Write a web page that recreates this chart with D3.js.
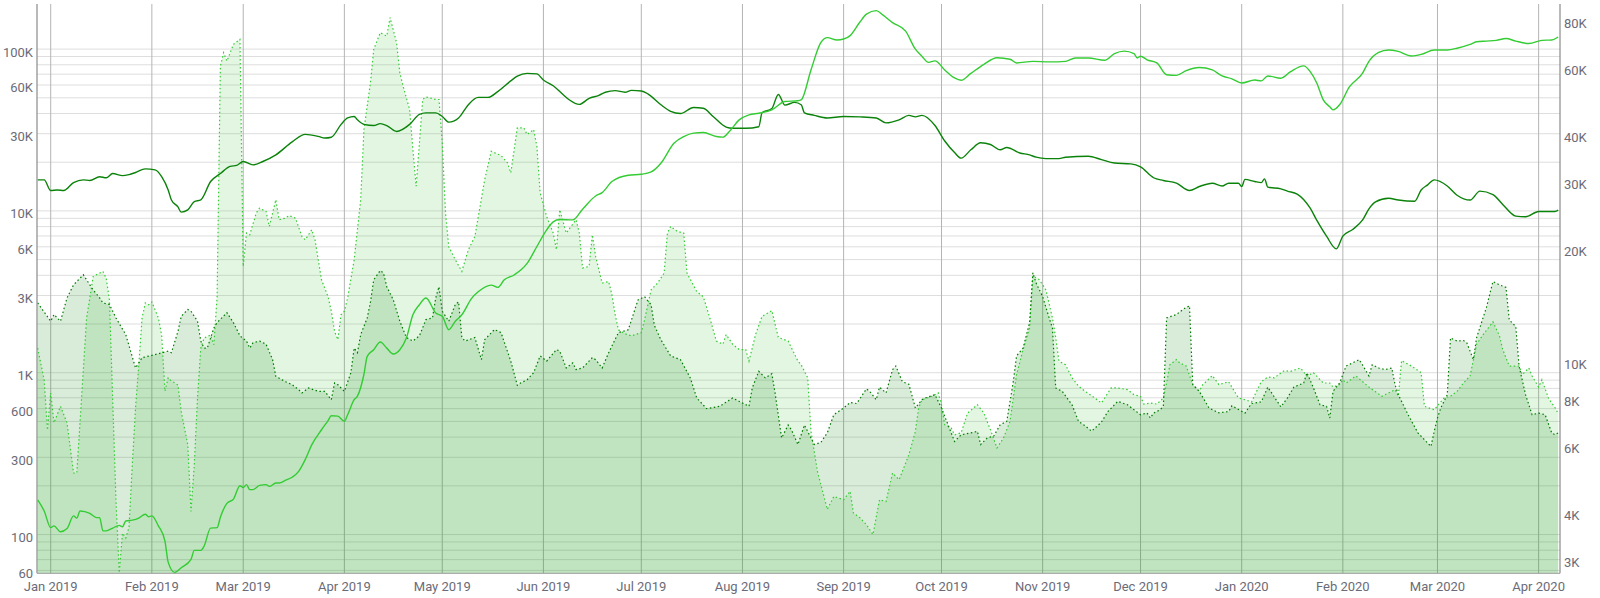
<!DOCTYPE html>
<html><head><meta charset="utf-8">
<script src="https://cdn.jsdelivr.net/npm/d3@7"></script>
<style>body{margin:0;background:#fff;overflow:hidden} text{font-family:Roboto,"Open Sans",sans-serif;}</style>
</head><body><svg id="c" width="1600" height="598"></svg>
<script>
// x values are days after 2019-01-01 (UTC)
const dayZero = "2019-01-01";

// Dark green line (right axis)
const darkLineDay = [-4,-2,0,2,4,7,10,12,15,17,19,22,24,26,29,32,34,36,37,39,40,42,44,46,49,52,55,57,59,62,65,69,74,78,82,84,86,89,91,93,94,96,99,101,103,106,110,113,115,118,120,122,125,128,131,134,137,141,143,146,149,151,154,157,159,162,165,168,170,173,176,178,181,183,187,190,193,197,200,203,207,209,213,217,218,221,223,225,228,230,231,234,238,243,248,253,256,260,263,265,267,271,274,277,279,282,285,288,291,293,297,300,302,305,309,311,318,322,326,331,334,338,341,345,349,352,356,359,361,364,365,366,369,371,372,373,377,379,382,386,388,391,394,396,399,402,404,406,410,413,418,420,422,424,428,431,435,438,442,445,449,452,456,461,462];
const darkLineValue = [30300,30300,28400,28500,28400,29800,30300,30200,30900,30700,31500,31100,31300,31700,32400,32200,30900,28500,26800,25700,24900,25250,26550,26830,30000,31500,32900,33100,33900,33200,33900,35300,38200,40000,39500,39100,39300,42500,44200,44600,43700,42500,42200,42700,42200,40700,42500,45200,45600,45600,44600,43100,44200,47900,50100,50100,51900,55400,57000,58000,57800,55700,53800,51000,49300,48000,49800,50700,51700,52200,51700,52300,52100,51200,47900,46000,45400,47100,46900,44600,41800,41500,41500,41900,45600,46800,51000,47800,48600,47900,45600,44900,44200,44600,44500,44200,42900,43700,44900,44500,44900,42200,38400,35800,34600,36400,38000,37600,36400,36900,35700,35300,34800,34500,34500,34800,35000,34300,33600,33400,32800,30700,30200,29700,28400,29100,29700,29200,29700,29700,29100,30400,30000,29800,30500,29000,28700,28300,27800,25500,23700,21500,19900,21500,22400,23700,25400,26500,27100,26800,26600,28500,29400,30300,29200,27600,26800,28300,27700,26100,24300,24200,25000,25000,25200];

// Bright green line (right axis)
const brightLineDay = [-4,-2,0,1,3,5,7,8,9,12,14,15,16,17,19,21,22,23,25,27,29,30,31,33,35,36,38,40,43,44,46,47,49,51,52,54,56,58,59,60,61,62,64,66,67,69,70,72,74,76,78,80,83,85,86,88,90,91,93,94,96,97,99,101,103,105,107,109,111,113,115,118,120,122,124,126,129,131,135,137,139,142,146,149,152,154,156,160,163,167,169,172,177,181,184,187,191,194,197,200,204,206,208,211,214,217,221,225,229,230,233,236,238,241,243,245,248,250,253,255,258,262,265,267,269,271,274,277,279,282,286,290,294,296,301,306,311,314,318,323,326,329,332,333,334,336,339,342,345,348,352,356,359,362,365,369,371,373,377,380,384,386,388,390,392,393,395,398,402,404,407,410,413,417,420,424,428,431,435,437,440,443,446,449,453,457,460,462];
const brightLineValue = [4310,4030,3640,3680,3550,3620,3910,3860,4030,3970,3870,3870,3570,3570,3630,3690,3660,3790,3810,3860,3950,3890,3910,3680,3360,2950,2770,2850,3000,3170,3170,3250,3630,3640,3880,4220,4330,4700,4650,4730,4590,4590,4710,4730,4680,4780,4780,4860,4950,5130,5510,6030,6610,6990,7200,7180,6960,7240,7940,8110,9270,10340,10760,11280,10870,10490,10760,11560,13320,14160,14760,13460,13200,12160,12800,13320,14720,15320,15960,15740,16480,16970,18210,20190,22350,23460,23800,23750,25350,27470,28040,30000,31170,31350,31800,33540,37900,39470,40300,40450,39470,39320,40720,43680,45020,45480,46420,48860,49070,49340,59230,69900,72100,71100,71500,73000,79300,83200,85000,82800,79000,75000,67200,64400,62000,62600,59230,56400,55600,58000,61300,63800,63200,61800,62400,62200,62400,63700,63700,62800,65400,66400,65400,63700,64400,63000,61800,57500,57300,59000,60100,59230,57100,56100,54700,55700,55400,57100,56300,58600,60700,58600,54700,49340,47300,46420,47900,53400,58000,62400,65900,66900,66300,64500,65100,66900,66900,67600,69200,70300,70600,70900,71700,70600,69600,70900,71100,72400];

// Light-filled area, bright dotted outline (left axis)
const lightAreaDay = [-4,-2,-1,0,1,3,5,7,8,10,11,12,13,16,17,18,19,20,21,22,23,24,25,26,27,28,29,30,31,33,34,35,36,37,39,40,42,43,44,45,46,47,49,50,51,52,53,54,55,56,58,59,60,61,63,64,66,67,68,69,70,72,73,75,77,78,80,81,83,85,86,87,88,89,90,91,93,95,96,98,99,101,103,104,106,107,108,110,111,112,113,114,115,118,119,120,121,122,124,126,128,130,133,135,138,140,141,143,145,146,148,149,150,152,154,155,156,158,161,162,163,165,166,167,169,171,172,173,174,176,178,181,182,184,186,188,189,190,192,194,195,198,200,202,204,206,207,209,211,213,214,216,218,221,223,226,229,230,232,233,235,238,240,243,245,246,248,250,252,254,256,258,260,263,265,266,267,270,272,273,274,276,277,279,281,284,286,288,290,292,294,296,298,300,301,303,305,307,308,309,311,313,315,317,320,322,325,327,330,332,334,335,337,339,341,342,343,345,346,348,350,352,353,356,358,361,364,366,368,371,373,375,378,380,383,385,387,390,392,393,395,396,397,400,404,408,410,412,413,414,417,420,421,423,424,427,429,431,433,435,437,439,442,444,445,447,450,451,453,454,456,457,459,460,461,462];
const lightAreaValue = [1420,902,442,750,490,620,490,240,240,1040,2180,2900,3930,4230,3840,2820,678,163,58,102,95,111,268,605,1120,2180,2700,2630,2740,2180,1710,770,930,890,840,575,360,139,270,700,1420,1640,1710,1490,2950,78500,95000,84300,95000,107000,114900,4540,7300,7120,9700,10400,9930,8020,9700,11730,8820,9030,9370,9030,6950,6630,7650,6630,3750,2950,2400,1800,1600,2290,2400,2900,4990,11730,31830,62000,99600,126400,120400,156500,109600,71400,59000,42330,23930,14200,26300,48820,50700,48820,48820,26300,9700,6000,4990,4230,5750,6950,15600,23370,22000,19800,17180,32600,32600,29640,31830,25100,12900,9240,7300,5750,10170,7300,8820,7300,4440,4540,7120,5230,3580,3660,3030,2280,1840,1740,1690,1770,2120,3250,3580,4130,7300,8020,7470,7300,4130,3170,2950,2180,1570,1500,1720,1500,1390,1390,1180,1720,2230,2420,1650,1570,1180,1120,930,434,245,143,172,164,185,136,127,115,100,164,160,240,218,311,434,605,681,715,750,634,477,455,413,425,563,634,563,444,343,395,500,973,1390,1890,3970,3750,3250,2180,1650,1180,1120,930,826,767,698,650,805,805,786,731,715,640,650,640,698,864,1120,1205,1150,1100,844,770,840,960,844,880,698,681,660,880,940,930,1030,1020,1070,955,1000,864,864,815,845,905,864,955,815,715,750,786,715,1190,1100,1000,620,600,590,698,715,767,864,955,1500,1720,2060,1690,1390,1100,1100,973,1070,955,815,905,698,650,610,560];

// Grey-green area, dark dotted outline (left axis)
const darkAreaDay = [-4,0,1,3,5,7,10,12,13,15,16,18,20,23,26,27,28,31,33,36,37,39,40,42,43,45,46,47,48,50,51,54,56,58,60,61,62,64,66,68,69,72,74,76,77,79,82,84,86,87,88,90,92,93,94,95,97,98,99,101,102,103,105,107,109,111,113,115,117,118,119,120,122,124,125,126,127,130,132,133,136,138,141,143,144,146,148,150,152,155,156,158,160,161,163,166,167,169,171,174,177,179,180,182,184,185,187,190,193,196,198,201,205,209,212,214,215,217,219,221,222,224,226,227,229,231,233,234,236,238,240,243,245,247,250,251,253,254,256,258,259,261,263,265,267,268,271,273,275,277,279,282,284,285,287,289,291,293,295,296,298,300,301,302,304,306,307,308,310,313,315,317,319,322,324,327,330,332,334,336,337,338,340,341,342,345,347,348,349,350,351,352,355,358,361,362,366,368,371,373,377,379,381,384,385,387,389,391,392,393,395,397,399,401,402,404,405,407,409,411,412,413,416,419,423,424,425,426,428,429,431,433,434,436,437,440,442,444,446,447,449,450,452,454,456,458,460,461,462];
const darkAreaValue = [2700,2080,2290,2080,2900,3490,4030,3490,3250,2900,2700,2640,2180,1720,1070,1150,1240,1280,1310,1360,1330,1800,2230,2460,2400,2080,1570,1420,1420,1890,2040,2350,2040,1690,1570,1420,1530,1570,1500,1205,950,880,844,786,750,805,767,767,681,864,844,767,1000,1420,1330,1720,2180,2740,3750,4280,4130,3400,2820,2080,1650,1570,1690,2130,2180,2900,3400,2400,2080,2640,2740,1650,1570,1650,1205,1600,1850,1770,1180,836,864,905,1000,1270,1180,1390,1360,1070,1150,1045,1070,1240,1205,1070,1330,1770,1840,2450,2820,2950,2630,1960,1600,1270,1205,930,698,600,620,698,650,620,805,1020,930,985,750,395,475,444,360,475,395,360,370,425,550,605,655,645,795,767,681,815,750,1045,1100,880,848,605,681,698,731,605,477,376,413,425,434,360,395,406,477,500,880,1270,1420,2040,4150,3580,2950,2180,1890,805,767,634,500,470,435,495,575,665,634,590,550,563,525,563,590,620,2180,2290,2460,2530,2590,844,805,767,605,565,575,625,563,645,660,815,615,698,815,864,1000,805,634,620,525,767,864,1100,1150,1205,1120,955,1120,1070,1045,1070,844,731,550,425,350,434,525,605,731,1640,1570,1580,1530,1205,1650,2530,3660,3490,3370,2120,1930,1100,731,550,563,550,425,413,425];

const leftTicks = [60,100,300,600,1000,3000,6000,10000,30000,60000,100000];
const leftTickLabels = ["60","100","300","600","1K","3K","6K","10K","30K","60K","100K"];
const rightTicks = [3000,4000,6000,8000,10000,20000,30000,40000,60000,80000];
const rightTickLabels = ["3K","4K","6K","8K","10K","20K","30K","40K","60K","80K"];

const L = 37, R = 1560, T = 4, B = 573.3;
const DAY = 864e5;
const t0 = Date.parse(dayZero + "T00:00:00Z");
const toDate = d => new Date(t0 + d * DAY);

const x = d3.scaleUtc().domain([toDate(-4.2), toDate(462.55)]).range([L, R]);
const yL = d3.scaleLog().domain([57.6, 190000]).range([B, T]).clamp(true);
const yR = d3.scaleLog().domain([2756, 88510]).range([B, T]).clamp(true);

const svg = d3.select("#c");
svg.append("defs").append("clipPath").attr("id","plot").append("rect")
  .attr("x", L).attr("y", T).attr("width", R - L).attr("height", B - T);

// horizontal grid (left axis minor ticks)
const gridVals = [];
[60,70,80,90].forEach(v => gridVals.push(v));
for (let e = 100; e <= 100000; e *= 10) for (let k = 1; k <= 9; k++) if (k * e <= 190000) gridVals.push(k * e);
svg.append("g").selectAll("line").data(gridVals).join("line")
  .attr("x1", L).attr("x2", R).attr("y1", d => yL(d)).attr("y2", d => yL(d))
  .attr("stroke", "#dedede").attr("stroke-width", 1);

// vertical month grid
const months = d3.utcMonth.range(toDate(0), toDate(457));
svg.append("g").selectAll("line").data(months).join("line")
  .attr("x1", d => x(d)).attr("x2", d => x(d)).attr("y1", T).attr("y2", B)
  .attr("stroke", "#b4b4b4").attr("stroke-width", 1);

const zip = (days, vals) => days.map((d, i) => ({ date: toDate(d), v: vals[i] }));
const light = zip(lightAreaDay, lightAreaValue);
const dark = zip(darkAreaDay, darkAreaValue);
const dLine = zip(darkLineDay, darkLineValue);
const bLine = zip(brightLineDay, brightLineValue);

const g = svg.append("g").attr("clip-path", "url(#plot)");
const area = d3.area().x(d => x(d.date)).y0(B).y1(d => yL(d.v));
const lineL = d3.line().x(d => x(d.date)).y(d => yL(d.v));
const lineR = d3.line().x(d => x(d.date)).y(d => yR(d.v)).curve(d3.curveMonotoneX);

g.append("path").datum(light).attr("d", area).attr("fill", "rgba(60,195,60,0.15)");
g.append("path").datum(dark).attr("d", area).attr("fill", "rgba(0,128,0,0.15)");
g.append("path").datum(light).attr("d", lineL).attr("fill", "none")
  .attr("stroke", "#33cc33").attr("stroke-width", 1.2).attr("stroke-dasharray", "1.5,2.5");
g.append("path").datum(dark).attr("d", lineL).attr("fill", "none")
  .attr("stroke", "#007a00").attr("stroke-width", 1.2).attr("stroke-dasharray", "1.5,2.5");
g.append("path").datum(dLine).attr("d", lineR).attr("fill", "none")
  .attr("stroke", "#0b830b").attr("stroke-width", 1.4);
g.append("path").datum(bLine).attr("d", lineR).attr("fill", "none")
  .attr("stroke", "#33cc33").attr("stroke-width", 1.4);

// axis lines
svg.append("line").attr("x1", L).attr("x2", L).attr("y1", T).attr("y2", B).attr("stroke", "#8a8a8a").attr("stroke-width", 1.2);
svg.append("line").attr("x1", R).attr("x2", R).attr("y1", T).attr("y2", B).attr("stroke", "#8a8a8a").attr("stroke-width", 1.2);
svg.append("line").attr("x1", L).attr("x2", R).attr("y1", B).attr("y2", B).attr("stroke", "#9a9a9a").attr("stroke-width", 1);

const txtColor = "#6b6b78";
svg.append("g").selectAll("text").data(leftTicks).join("text")
  .attr("x", 33).attr("y", d => yL(d) + 4).attr("text-anchor", "end").attr("dominant-baseline", "middle")
  .attr("font-size", 13).attr("fill", txtColor).text((d, i) => leftTickLabels[i]);
svg.append("g").selectAll("text").data(rightTicks).join("text")
  .attr("x", 1564).attr("y", d => yR(d) + 4).attr("text-anchor", "start").attr("dominant-baseline", "middle")
  .attr("font-size", 13).attr("fill", txtColor).text((d, i) => rightTickLabels[i]);
svg.append("g").selectAll("text").data(months).join("text")
  .attr("x", d => x(d)).attr("y", 588).attr("text-anchor", "middle").attr("dominant-baseline", "middle")
  .attr("font-size", 13).attr("fill", txtColor).text(d3.utcFormat("%b %Y"));
</script></body></html>
